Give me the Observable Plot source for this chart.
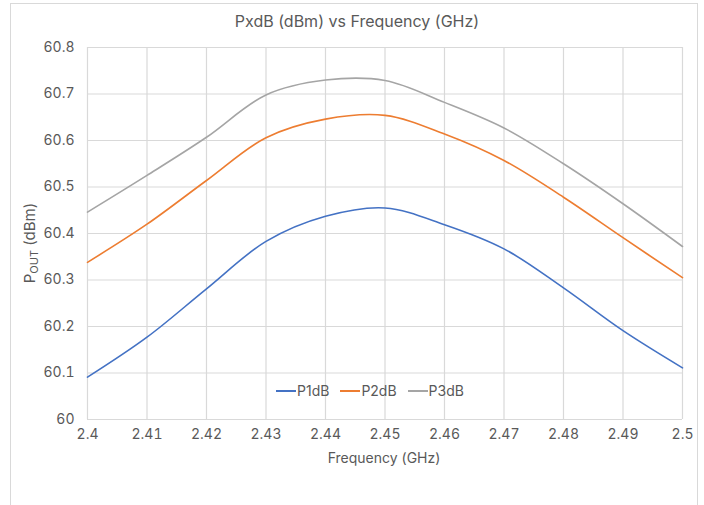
<!DOCTYPE html>
<html>
<head>
<meta charset="utf-8">
<script src="https://cdn.jsdelivr.net/npm/d3@7"></script>
<script src="https://cdn.jsdelivr.net/npm/@observablehq/plot@0.6"></script>
<style>
  body { margin: 0; background: #fff; font-family: Inter, "Open Sans", sans-serif; }
  #wrap { position: relative; width: 704px; height: 505px; overflow: hidden; background:#fff; }
  #frame { position: absolute; left: 10px; top: 3px; width: 686px; height: 510px; border: 1px solid #d9d9d9; }
  #title { position: absolute; top: 11px; left: 0; width: 714px; text-align: center; font-size: 16px; color: #595959; }
  #chart { position: absolute; left: 0; top: 0; }
  #legend { position: absolute; top: 382px; left: 276px; font-size: 14px; color: #595959; display: flex; align-items: center; white-space: nowrap; }
  #legend .item { display: flex; align-items: center; margin-right: 11px; }
  #legend .sw { display: inline-block; width: 20px; height: 2px; margin-right: 1px; }
</style>
</head>
<body>
<div id="wrap">
  <div id="frame"></div>
  <div id="chart"></div>
  <div id="title">PxdB (dBm) vs Frequency (GHz)</div>
  <div id="legend"></div>
</div>
<script>
const freq = [2.40, 2.41, 2.42, 2.43, 2.44, 2.45, 2.46, 2.47, 2.48, 2.49, 2.50];
const p1dB = [60.091, 60.177, 60.281, 60.383, 60.437, 60.455, 60.419, 60.367, 60.283, 60.191, 60.111];
const p2dB = [60.338, 60.420, 60.514, 60.606, 60.646, 60.654, 60.614, 60.557, 60.478, 60.391, 60.305];
const p3dB = [60.446, 60.525, 60.607, 60.698, 60.730, 60.729, 60.682, 60.627, 60.550, 60.464, 60.372];
const seriesNames = ["P1dB", "P2dB", "P3dB"];
const seriesColors = ["#4472C4", "#ED7D31", "#A5A5A5"];
const xTicks = [2.40, 2.41, 2.42, 2.43, 2.44, 2.45, 2.46, 2.47, 2.48, 2.49, 2.50];
const xTickLabels = ["2.4", "2.41", "2.42", "2.43", "2.44", "2.45", "2.46", "2.47", "2.48", "2.49", "2.5"];
const yTicks = [60, 60.1, 60.2, 60.3, 60.4, 60.5, 60.6, 60.7, 60.8];
const yTickLabels = ["60", "60.1", "60.2", "60.3", "60.4", "60.5", "60.6", "60.7", "60.8"];

const allSeries = [p1dB, p2dB, p3dB];
const data = [];
allSeries.forEach((vals, si) => vals.forEach((v, i) => data.push({ f: freq[i], v, s: seriesNames[si] })));

const plot = Plot.plot({
  width: 704,
  height: 505,
  marginLeft: 87,
  marginRight: 22,
  marginTop: 47,
  marginBottom: 86,
  style: { fontFamily: "Inter, 'Open Sans', sans-serif", fontSize: "14px", color: "#595959", background: "transparent" },
  x: { domain: [2.4, 2.5], ticks: xTicks, tickFormat: (d) => xTickLabels[xTicks.findIndex(t => Math.abs(t - d) < 1e-9)], tickSize: 0, tickPadding: 10, label: null },
  y: { domain: [60, 60.8], ticks: yTicks, tickFormat: (d) => yTickLabels[yTicks.findIndex(t => Math.abs(t - d) < 1e-9)], tickSize: 0, tickPadding: 13, label: null },
  color: { domain: seriesNames, range: seriesColors },
  marks: [
    Plot.ruleY(yTicks, { stroke: "#d9d9d9", strokeWidth: 1.2, strokeOpacity: 1 }),
    Plot.ruleX(xTicks, { stroke: "#d9d9d9", strokeWidth: 1.2, strokeOpacity: 1 }),
    Plot.line(data, { x: "f", y: "v", z: "s", stroke: "s", strokeWidth: 1.6, curve: "catmull-rom" })
  ]
});
document.getElementById("chart").appendChild(plot);

const svg = d3.select(plot);
// X axis label
svg.append("text")
  .attr("x", 384).attr("y", 463)
  .attr("text-anchor", "middle")
  .attr("fill", "#595959")
  .attr("font-size", "14px")
  .text("Frequency (GHz)");

// Y axis label with subscript
const yl = svg.append("text")
  .attr("transform", `translate(35, 243) rotate(-90)`)
  .attr("text-anchor", "middle")
  .attr("fill", "#595959")
  .attr("font-size", "15px");
yl.append("tspan").text("P");
yl.append("tspan").attr("font-size", "11px").attr("dy", "3").text("OUT");
yl.append("tspan").attr("dy", "-3").text(" (dBm)");

// Legend
const legend = document.getElementById("legend");
seriesNames.forEach((n, i) => {
  const it = document.createElement("div");
  it.className = "item";
  const sw = document.createElement("span");
  sw.className = "sw";
  sw.style.background = seriesColors[i];
  const tx = document.createElement("span");
  tx.textContent = n;
  it.appendChild(sw); it.appendChild(tx);
  legend.appendChild(it);
});
</script>
</body>
</html>
